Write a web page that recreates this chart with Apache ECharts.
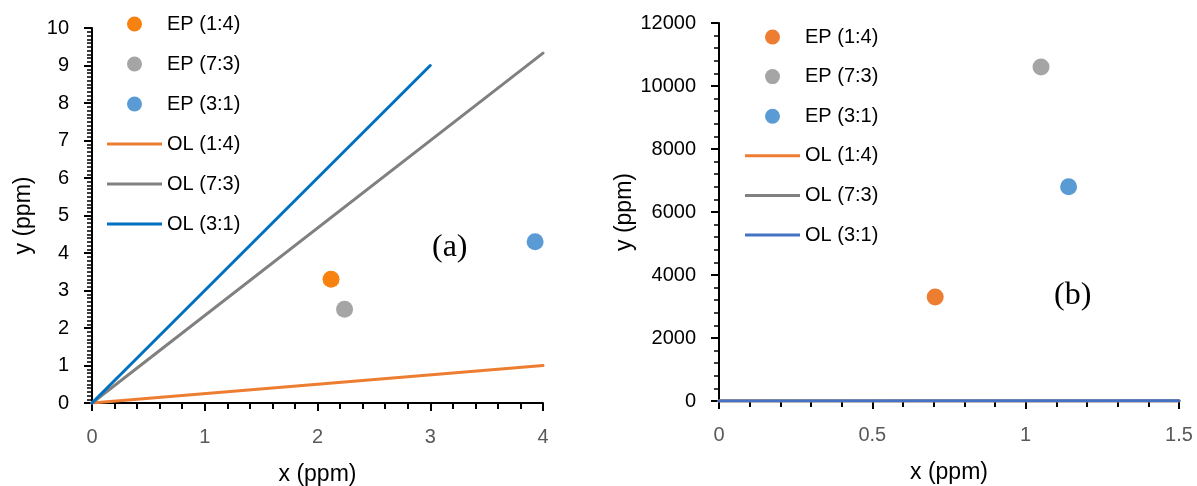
<!DOCTYPE html>
<html>
<head>
<meta charset="utf-8">
<script src="https://cdn.jsdelivr.net/npm/echarts@6/dist/echarts.min.js"></script>
<style>html,body{margin:0;padding:0;background:#fff}#c{width:1197px;height:486px}</style>
</head>
<body>
<div id="c"></div>
<script>
// ---- data ----
const seriesNames = ['EP (1:4)', 'EP (7:3)', 'EP (3:1)', 'OL (1:4)', 'OL (7:3)', 'OL (3:1)'];
// panel (a)
const epA_x = [2.12, 2.24, 3.93];
const epA_y = [3.3, 2.5, 4.3];
const olA_x = [[0, 4], [0, 4], [0, 3]];
const olA_y = [[0, 1], [0, 9.33], [0, 9]];
// panel (b)
const epB_x = [0.705, 1.05, 1.14];
const epB_y = [3300, 10600, 6800];
const olB_x = [[0, 1.5], [0, 1.5], [0, 1.5]];
const olB_y = [[0, 0.375], [0, 3.5], [0, 4.5]];
const panelLabels = ['(a)', '(b)'];
const xNameText = 'x (ppm)';
const yNameText = 'y (ppm)';

// ---- styles ----
const FONT = 'Liberation Sans';
const epColorsA = ['#F7820F', '#A5A5A5', '#5B9BD5'];
const olColorsA = ['#ED7D31', '#808080', '#0070C0'];
const epColorsB = ['#ED7D31', '#A5A5A5', '#5B9BD5'];
const olColorsB = ['#ED7D31', '#808080', '#4472C4'];
const LINE_ICON = 'path://M0,0L55,0L55,3L0,3Z';

function pairs(xs, ys) { return xs.map((x, i) => [x, ys[i]]); }

function xAxis(grid, max, interval, minorSplit) {
  return {
    type: 'value', gridIndex: grid, min: 0, max: max, interval: interval,
    name: xNameText, nameLocation: 'middle', nameGap: 60,
    nameTextStyle: { fontFamily: FONT, fontSize: 23, color: '#000' },
    axisLine: { show: true, onZero: false, lineStyle: { color: '#000', width: 2 } },
    axisTick: { show: true, length: 8, lineStyle: { color: '#000', width: 2 } },
    minorTick: { show: true, splitNumber: minorSplit, length: 6, lineStyle: { color: '#000', width: 2 } },
    axisLabel: { fontFamily: FONT, fontSize: 20, color: '#595959', margin: 24,
      formatter: v => String(v) },
    splitLine: { show: false }, minorSplitLine: { show: false }
  };
}
function yAxis(grid, max, interval, minorSplit, nameGap) {
  return {
    type: 'value', gridIndex: grid, min: 0, max: max, interval: interval,
    name: yNameText, nameLocation: 'middle', nameGap: nameGap,
    nameTextStyle: { fontFamily: FONT, fontSize: 23, color: '#000' },
    axisLine: { show: true, onZero: false, lineStyle: { color: '#000', width: 2 } },
    axisTick: { show: true, length: 8, lineStyle: { color: '#000', width: 2 } },
    minorTick: { show: true, splitNumber: minorSplit, length: 5, lineStyle: { color: '#000', width: 1.5 } },
    axisLabel: { fontFamily: FONT, fontSize: 20, color: '#000', margin: 23,
      formatter: v => String(v) },
    splitLine: { show: false }, minorSplitLine: { show: false }
  };
}

const series = [];
for (let i = 0; i < 3; i++) {
  series.push({ name: seriesNames[i], type: 'scatter', xAxisIndex: 0, yAxisIndex: 0,
    symbol: 'circle', symbolSize: 17, itemStyle: { color: epColorsA[i], opacity: 1 },
    data: [[epA_x[i], epA_y[i]]] });
}
for (let i = 0; i < 3; i++) {
  series.push({ name: seriesNames[3 + i], type: 'line', xAxisIndex: 0, yAxisIndex: 0,
    symbol: 'none', lineStyle: { color: olColorsA[i], width: 3, cap: 'round' },
    itemStyle: { color: olColorsA[i] },
    data: pairs(olA_x[i], olA_y[i]) });
}
for (let i = 0; i < 3; i++) {
  series.push({ name: seriesNames[i], type: 'scatter', xAxisIndex: 1, yAxisIndex: 1,
    symbol: 'circle', symbolSize: 17, itemStyle: { color: epColorsB[i], opacity: 1 },
    data: [[epB_x[i], epB_y[i]]] });
}
for (let i = 0; i < 3; i++) {
  series.push({ name: seriesNames[3 + i], type: 'line', xAxisIndex: 1, yAxisIndex: 1,
    symbol: 'none', lineStyle: { color: olColorsB[i], width: 3, cap: 'round' },
    itemStyle: { color: olColorsB[i] },
    data: pairs(olB_x[i], olB_y[i]) });
}

function legendData(epC, olC) {
  return seriesNames.map((n, i) => i < 3
    ? { name: n, icon: 'circle', itemStyle: { color: epC[i], opacity: 1 } }
    : { name: n, icon: LINE_ICON, itemStyle: { color: olC[i - 3], opacity: 1, borderWidth: 0 } });
}
const legendText = { fontFamily: FONT, fontSize: 20, color: '#000', lineHeight: 20 };

const option = {
  animation: false,
  backgroundColor: '#fff',
  grid: [
    { left: 92, top: 28, width: 451, height: 375, outerBoundsMode: 'none', containLabel: false },
    { left: 719, top: 23, width: 460, height: 378, outerBoundsMode: 'none', containLabel: false }
  ],
  xAxis: [xAxis(0, 4, 1, 5), xAxis(1, 1.5, 0.5, 5)],
  yAxis: [yAxis(0, 10, 1, 10, 57), yAxis(1, 12000, 2000, 5, 76)],
  legend: [
    { orient: 'vertical', left: 107, top: 14, padding: 0, itemWidth: 55, itemHeight: 15, itemGap: 20,
      textStyle: legendText, selectedMode: false, data: legendData(epColorsA, olColorsA) },
    { orient: 'vertical', left: 745, top: 27, padding: 0, itemWidth: 55, itemHeight: 15, itemGap: 19.6,
      textStyle: legendText, selectedMode: false, data: legendData(epColorsB, olColorsB) }
  ],
  graphic: [
    { type: 'text', left: 432, top: 232, style: { text: panelLabels[0], fontFamily: 'Liberation Serif', fontSize: 32, fill: '#000' } },
    { type: 'text', left: 1054, top: 280, style: { text: panelLabels[1], fontFamily: 'Liberation Serif', fontSize: 32, fill: '#000' } }
  ],
  series: series
};

const chart = echarts.init(document.getElementById('c'), null, { renderer: 'canvas' });
chart.setOption(option);
</script>
</body>
</html>
